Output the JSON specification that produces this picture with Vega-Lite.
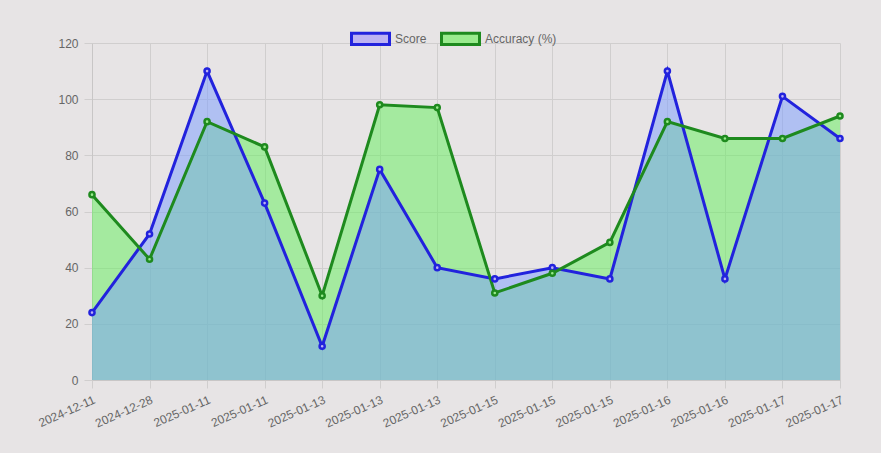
{
  "$schema": "https://vega.github.io/schema/vega-lite/v6.json",
  "width": 748,
  "height": 337,
  "autosize": {"type": "none"},
  "padding": {"left": 92, "top": 43, "right": 41, "bottom": 73},
  "background": "#e7e4e5",
  "data": {
    "values": [
      {"d": "2024-12-11#0", "series": "Score", "value": 24},
      {"d": "2024-12-28#1", "series": "Score", "value": 52},
      {"d": "2025-01-11#2", "series": "Score", "value": 110},
      {"d": "2025-01-11#3", "series": "Score", "value": 63},
      {"d": "2025-01-13#4", "series": "Score", "value": 12},
      {"d": "2025-01-13#5", "series": "Score", "value": 75},
      {"d": "2025-01-13#6", "series": "Score", "value": 40},
      {"d": "2025-01-15#7", "series": "Score", "value": 36},
      {"d": "2025-01-15#8", "series": "Score", "value": 40},
      {"d": "2025-01-15#9", "series": "Score", "value": 36},
      {"d": "2025-01-16#10", "series": "Score", "value": 110},
      {"d": "2025-01-16#11", "series": "Score", "value": 36},
      {"d": "2025-01-17#12", "series": "Score", "value": 101},
      {"d": "2025-01-17#13", "series": "Score", "value": 86},
      {"d": "2024-12-11#0", "series": "Accuracy (%)", "value": 66},
      {"d": "2024-12-28#1", "series": "Accuracy (%)", "value": 43},
      {"d": "2025-01-11#2", "series": "Accuracy (%)", "value": 92},
      {"d": "2025-01-11#3", "series": "Accuracy (%)", "value": 83},
      {"d": "2025-01-13#4", "series": "Accuracy (%)", "value": 30},
      {"d": "2025-01-13#5", "series": "Accuracy (%)", "value": 98},
      {"d": "2025-01-13#6", "series": "Accuracy (%)", "value": 97},
      {"d": "2025-01-15#7", "series": "Accuracy (%)", "value": 31},
      {"d": "2025-01-15#8", "series": "Accuracy (%)", "value": 38},
      {"d": "2025-01-15#9", "series": "Accuracy (%)", "value": 49},
      {"d": "2025-01-16#10", "series": "Accuracy (%)", "value": 92},
      {"d": "2025-01-16#11", "series": "Accuracy (%)", "value": 86},
      {"d": "2025-01-17#12", "series": "Accuracy (%)", "value": 86},
      {"d": "2025-01-17#13", "series": "Accuracy (%)", "value": 94}
    ]
  },
  "encoding": {
    "x": {
      "field": "d",
      "type": "ordinal",
      "sort": null,
      "scale": {"type": "point", "padding": 0},
      "axis": {
        "title": null,
        "labelExpr": "split(datum.value, '#')[0]",
        "labelAngle": -24,
        "labelAlign": "right",
        "labelBaseline": "top",
        "labelPadding": 6,
        "grid": true
      }
    },
    "y": {
      "field": "value",
      "type": "quantitative",
      "stack": null,
      "scale": {"domain": [0, 120], "nice": false},
      "axis": {"title": null, "values": [0, 20, 40, 60, 80, 100, 120], "labelPadding": 6}
    }
  },
  "layer": [
    {
      "transform": [{"filter": "datum.series == 'Accuracy (%)'"}],
      "mark": {"type": "area", "opacity": 0.5},
      "encoding": {
        "color": {
          "field": "series",
          "type": "nominal",
          "scale": {"domain": ["Accuracy (%)", "Score"], "range": ["#61ef59", "#7a9cff"]},
          "legend": null
        }
      }
    },
    {
      "transform": [{"filter": "datum.series == 'Score'"}],
      "mark": {"type": "area", "opacity": 0.5},
      "encoding": {
        "color": {"field": "series", "type": "nominal", "legend": null}
      }
    },
    {
      "mark": {"type": "line", "strokeWidth": 3},
      "encoding": {
        "stroke": {
          "field": "series",
          "type": "nominal",
          "title": null,
          "scale": {"domain": ["Score", "Accuracy (%)"], "range": ["#2222dd", "#1e8a1e"]}
        }
      }
    },
    {
      "mark": {"type": "point", "filled": true, "size": 26, "strokeWidth": 2.5, "opacity": 1},
      "encoding": {
        "stroke": {"field": "series", "type": "nominal", "title": null},
        "fill": {
          "field": "series",
          "type": "nominal",
          "title": null,
          "scale": {"domain": ["Score", "Accuracy (%)"], "range": ["#bdb2f2", "#9aeb8e"]}
        }
      }
    }
  ],
  "config": {
    "font": "Liberation Sans",
    "view": {"stroke": null},
    "axis": {
      "labelFontSize": 12,
      "labelColor": "#666666",
      "gridColor": "#d0cece",
      "domainColor": "#c8c6c6",
      "tickColor": "#d0cece",
      "tickSize": 8
    },
    "legend": {
      "orient": "none",
      "direction": "horizontal",
      "legendX": 258,
      "legendY": -25,
      "symbolType": "M-1,-0.3H1V0.3H-1Z",
      "symbolSize": 1444,
      "symbolStrokeWidth": 3,
      "symbolOpacity": 1,
      "columnPadding": 8,
      "labelFontSize": 12,
      "labelColor": "#666666",
      "disable": false
    }
  }
}
